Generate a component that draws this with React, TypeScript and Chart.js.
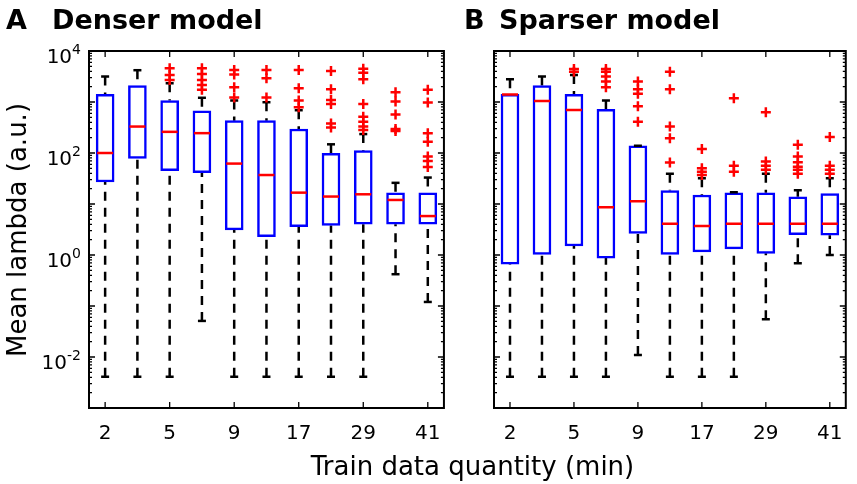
import { useEffect, useRef } from 'react';
import { Chart, registerables } from 'chart.js';

Chart.register(...registerables);

// box positions along the x axis, and the labelled ones
const boxPositions = [1, 2, 3, 4, 5, 6, 7, 8, 9, 10, 11];
const xTickValues = [1, 3, 5, 7, 9, 11];
const xTickLabels = ['2', '5', '9', '17', '29', '41'];
const yLabelPowers = [-2, 0, 2, 4];

// A - Denser model
const denserLow = [0.0041, 0.0041, 0.0041, 0.051, 0.0041, 0.0041, 0.0041, 0.0041, 0.0041, 0.42, 0.12];
const denserQ1 = [27, 78, 45, 41, 3.1, 2.3, 3.6, 3.8, 4.0, 4.0, 4.0];
const denserMedian = [100, 330, 260, 245, 62, 37, 16.7, 14, 15.5, 12, 5.8];
const denserQ3 = [1410, 2090, 1070, 675, 430, 430, 295, 98, 111, 16.6, 16.6];
const denserHigh = [3160, 4200, 2330, 1210, 1070, 990, 690, 148, 235, 26, 33];
const denserOutliers = [
  [],
  [],
  [4600, 3400, 2700],
  [4600, 3540, 2700, 2150, 1740],
  [4260, 3480, 1950, 1230],
  [4260, 2920, 1230],
  [4260, 1860, 1070, 790],
  [4070, 1780, 1100, 910, 380, 318],
  [4470, 3740, 2800, 910, 515, 410, 330, 282],
  [1550, 1020, 570, 295, 270],
  [1740, 975, 245, 166, 85, 70, 53],
];

// B - Sparser model
const sparserLow = [0.0041, 0.0041, 0.0041, 0.0041, 0.011, 0.0041, 0.0041, 0.0041, 0.055, 0.69, 1.0];
const sparserQ1 = [0.66, 1.03, 1.5, 0.87, 2.66, 1.03, 1.15, 1.32, 1.08, 2.5, 2.45];
const sparserMedian = [1410, 1050, 700, 8.6, 11.3, 4.1, 3.7, 4.1, 4.1, 4.1, 4.1];
const sparserQ3 = [1410, 2090, 1410, 720, 139, 18.3, 15, 16.6, 16.6, 13.8, 16];
const sparserHigh = [2780, 3150, 3380, 1070, 139, 39, 32, 17, 39, 18.6, 32];
const sparserOutliers = [
  [],
  [],
  [4460, 3900],
  [4460, 3900, 3150, 2520, 1940],
  [2510, 1780, 1450, 830, 410],
  [3900, 1780, 330, 195, 65],
  [120, 50, 43, 37],
  [1180, 56, 43],
  [630, 68, 56, 47],
  [145, 85, 66, 54, 47, 39],
  [205, 56, 47, 39],
];

const FONT = '"DejaVu Sans", Verdana, sans-serif';

// matlab-like frame: box all round, inward ticks, 10^n labels
const framePlugin = {
  id: 'matlabFrame',
  afterDraw(chart: any, _args: any, opts: any) {
    const { ctx, chartArea: a, scales } = chart;
    const x = scales.x;
    const y = scales.y;
    ctx.save();
    ctx.strokeStyle = '#000';
    ctx.lineWidth = 1.3;
    ctx.beginPath();
    for (const v of xTickValues) {
      const px = x.getPixelForValue(v);
      ctx.moveTo(px, a.bottom);
      ctx.lineTo(px, a.bottom - 6);
      ctx.moveTo(px, a.top);
      ctx.lineTo(px, a.top + 6);
    }
    for (let p = -3; p <= 4; p++) {
      for (let m = 1; m <= 9; m++) {
        if (p === 4 && m > 1) break;
        const py = y.getPixelForValue(m * Math.pow(10, p));
        const len = m === 1 ? 6 : 3;
        ctx.moveTo(a.left, py);
        ctx.lineTo(a.left + len, py);
        ctx.moveTo(a.right, py);
        ctx.lineTo(a.right - len, py);
      }
    }
    ctx.stroke();
    ctx.lineWidth = 2;
    ctx.strokeRect(a.left, a.top, a.right - a.left, a.bottom - a.top);

    if (opts && opts.yLabels) {
      ctx.fillStyle = '#000';
      ctx.textAlign = 'right';
      ctx.textBaseline = 'alphabetic';
      for (const p of yLabelPowers) {
        const py = y.getPixelForValue(Math.pow(10, p));
        const exp = String(p);
        ctx.font = '14px ' + FONT;
        const ew = ctx.measureText(exp).width;
        const right = a.left - 8;
        ctx.fillText(exp, right, py + 3);
        ctx.font = '20px ' + FONT;
        ctx.fillText('10', right - ew, py + 12);
      }
    }
    ctx.restore();
  },
};

function makeConfig(
  low: number[],
  q1: number[],
  med: number[],
  q3: number[],
  high: number[],
  outliers: number[][],
  leftEdge: number,
  rightGap: number,
  yLabels: boolean,
): any {
  const whiskers: any[] = [];
  const caps: any[] = [];
  const medians: any[] = [];
  const boxes: any[] = [];
  const dots: any[] = [];
  boxPositions.forEach((xv, i) => {
    whiskers.push({ x: xv, y: high[i] }, { x: xv, y: q3[i] }, { x: xv, y: null });
    whiskers.push({ x: xv, y: low[i] }, { x: xv, y: q1[i] }, { x: xv, y: null });
    caps.push({ x: xv, y: low[i] }, { x: xv, y: high[i] });
    medians.push({ x: xv, y: med[i] });
    boxes.push({ x: xv, y: [q1[i], q3[i]] });
    outliers[i].forEach((v) => dots.push({ x: xv, y: v }));
  });

  return {
    type: 'bar',
    data: {
      datasets: [
        {
          type: 'scatter',
          data: dots,
          pointStyle: 'cross',
          pointRadius: 5,
          pointBorderWidth: 2.5,
          borderColor: '#ff0000',
          backgroundColor: '#ff0000',
        },
        {
          type: 'scatter',
          data: medians,
          pointStyle: 'line',
          pointRadius: 8,
          pointBorderWidth: 2.5,
          borderColor: '#ff0000',
        },
        {
          type: 'scatter',
          data: caps,
          pointStyle: 'line',
          pointRadius: 4,
          pointBorderWidth: 2.5,
          borderColor: '#000000',
        },
        {
          type: 'bar',
          data: boxes,
          barThickness: 18,
          borderWidth: 2.5,
          borderSkipped: false,
          borderColor: '#0000ff',
          backgroundColor: '#ffffff',
        },
        {
          type: 'line',
          data: whiskers,
          borderColor: '#000000',
          borderWidth: 2.5,
          borderDash: [9, 7],
          pointRadius: 0,
          spanGaps: false,
          fill: false,
        },
      ],
    },
    options: {
      animation: false,
      responsive: false,
      events: [],
      layout: { padding: { top: 51, right: rightGap, left: 0, bottom: 0 } },
      plugins: {
        legend: { display: false },
        tooltip: { enabled: false },
        matlabFrame: { yLabels },
      },
      scales: {
        x: {
          type: 'linear',
          min: 0.5,
          max: 11.5,
          offset: false,
          grid: { display: false, drawTicks: false },
          border: { display: false },
          afterBuildTicks: (s: any) => {
            s.ticks = xTickValues.map((v) => ({ value: v }));
          },
          afterFit: (s: any) => {
            s.height = 76;
          },
          ticks: {
            autoSkip: false,
            maxRotation: 0,
            padding: 14,
            color: '#000',
            font: { family: FONT, size: 20 },
            callback: (v: any) => {
              const k = xTickValues.indexOf(Number(v));
              return k >= 0 ? xTickLabels[k] : '';
            },
          },
        },
        y: {
          type: 'logarithmic',
          min: 1e-3,
          max: 1e4,
          grid: { display: false, drawTicks: false },
          border: { display: false },
          ticks: { display: false },
          afterFit: (s: any) => {
            s.width = leftEdge;
          },
        },
      },
    },
    plugins: [framePlugin],
  };
}

export default function App() {
  const refA = useRef<HTMLCanvasElement | null>(null);
  const refB = useRef<HTMLCanvasElement | null>(null);

  useEffect(() => {
    document.body.style.margin = '0';
    if (!refA.current || !refB.current) return;
    const chartA = new Chart(
      refA.current,
      makeConfig(denserLow, denserQ1, denserMedian, denserQ3, denserHigh, denserOutliers, 89, 8.5, true),
    );
    const chartB = new Chart(
      refB.current,
      makeConfig(sparserLow, sparserQ1, sparserMedian, sparserQ3, sparserHigh, sparserOutliers, 39, 9, false),
    );
    return () => {
      chartA.destroy();
      chartB.destroy();
    };
  }, []);

  const title = { position: 'absolute' as const, top: 6, font: `bold 27px ${FONT}`, lineHeight: '27px', whiteSpace: 'nowrap' as const };

  return (
    <div style={{ position: 'relative', width: 857, height: 484, background: '#fff', color: '#000', fontFamily: FONT, overflow: 'hidden' }}>
      <canvas ref={refA} width={455} height={484} style={{ position: 'absolute', left: 0, top: 0 }} />
      <canvas ref={refB} width={402} height={484} style={{ position: 'absolute', left: 455, top: 0 }} />
      <div style={{ ...title, left: 6 }}>A</div>
      <div style={{ ...title, left: 52 }}>Denser model</div>
      <div style={{ ...title, left: 464 }}>B</div>
      <div style={{ ...title, left: 499 }}>Sparser model</div>
      <div
        style={{
          position: 'absolute',
          left: 472.5,
          top: 453,
          transform: 'translateX(-50%)',
          fontSize: 26,
          lineHeight: '26px',
          whiteSpace: 'nowrap',
        }}
      >
        Train data quantity (min)
      </div>
      <div
        style={{
          position: 'absolute',
          left: 16.5,
          top: 229.5,
          transform: 'translate(-50%, -50%) rotate(-90deg)',
          fontSize: 26,
          lineHeight: '26px',
          whiteSpace: 'nowrap',
        }}
      >
        Mean lambda (a.u.)
      </div>
    </div>
  );
}
